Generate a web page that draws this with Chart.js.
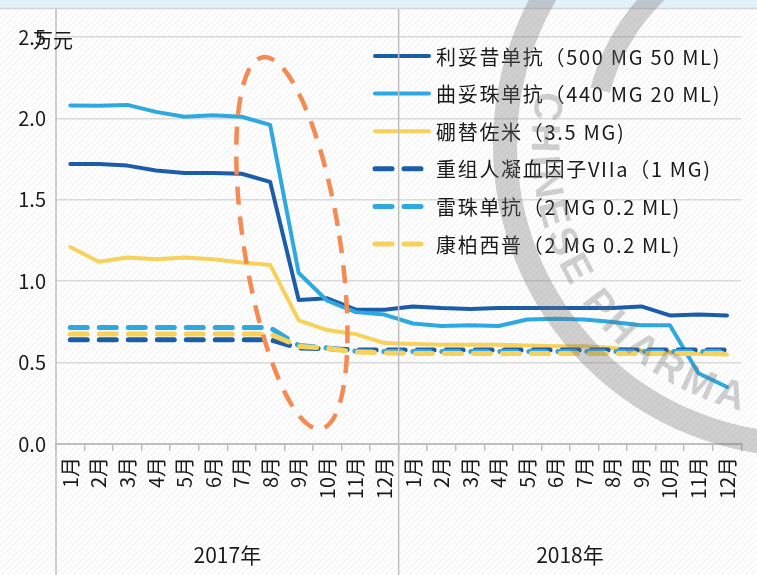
<!DOCTYPE html>
<html>
<head>
<meta charset="utf-8">
<script src="https://cdn.jsdelivr.net/npm/chart.js@4.4.0/dist/chart.umd.min.js"></script>
<style>
	html, body { margin: 0; padding: 0; background: #fff; }
	#grafico { display: block; }
</style>
</head>
<body>
<canvas id="grafico" width="757" height="575"></canvas>
<script>
// eixo x: meses de 2017 e 2018
const meses = ['1月','2月','3月','4月','5月','6月','7月','8月','9月','10月','11月','12月',
	'1月','2月','3月','4月','5月','6月','7月','8月','9月','10月','11月','12月'];
const anos = ['2017年', '2018年'];
const yTicks = [0, 0.5, 1.0, 1.5, 2.0, 2.5];
const unidade = '万元';

// valores (万元)
const rituximab = [1.72, 1.72, 1.71, 1.68, 1.665, 1.665, 1.66, 1.61, 0.885, 0.895, 0.825, 0.825,
	0.845, 0.835, 0.83, 0.835, 0.835, 0.835, 0.835, 0.835, 0.845, 0.79, 0.795, 0.79];
const trastuzumab = [2.08, 2.078, 2.083, 2.04, 2.01, 2.02, 2.01, 1.96, 1.05, 0.88, 0.81, 0.795,
	0.74, 0.725, 0.73, 0.725, 0.765, 0.77, 0.765, 0.75, 0.73, 0.73, 0.435, 0.35];
const bortezomib = [1.21, 1.12, 1.145, 1.135, 1.145, 1.135, 1.115, 1.10, 0.76, 0.70, 0.675, 0.62,
	0.615, 0.61, 0.61, 0.61, 0.605, 0.60, 0.60, 0.59, 0.575, 0.565, 0.555, 0.55];
const fator7 = [0.64, 0.64, 0.64, 0.64, 0.64, 0.64, 0.64, 0.64, 0.59, 0.585, 0.578, 0.578,
	0.578, 0.578, 0.578, 0.578, 0.578, 0.578, 0.578, 0.578, 0.578, 0.578, 0.578, 0.578];
const ranibizumab = [0.715, 0.715, 0.715, 0.715, 0.715, 0.715, 0.715, 0.715, 0.605, 0.59, 0.57, 0.568,
	0.568, 0.568, 0.568, 0.568, 0.568, 0.568, 0.568, 0.568, 0.568, 0.568, 0.568, 0.568];
const conbercept = [0.675, 0.675, 0.675, 0.675, 0.675, 0.675, 0.675, 0.675, 0.60, 0.588, 0.565, 0.56,
	0.556, 0.556, 0.556, 0.556, 0.556, 0.556, 0.556, 0.556, 0.556, 0.556, 0.556, 0.556];

const nomes = ['利妥昔单抗（500 MG 50 ML)', '曲妥珠单抗（440 MG 20 ML)', '硼替佐米（3.5 MG)',
	'重组人凝血因子VIIa（1 MG)', '雷珠单抗（2 MG 0.2 ML)', '康柏西普（2 MG 0.2 ML)'];

const fonte = '"Noto Sans CJK SC", "Noto Sans", sans-serif';
const azulEscuro = '#1b5dab';
const azulClaro = '#2ea8e0';
const amarelo = '#f7d15a';

function serie(i, data, cor, tracejado) {
	return {
		label: nomes[i],
		data: data,
		borderColor: cor,
		backgroundColor: cor,
		borderWidth: tracejado ? 5 : 4,
		borderDash: tracejado ? [17, 12] : [],
		borderCapStyle: 'round',
		borderJoinStyle: 'round',
		pointRadius: 0,
		tension: 0,
		fill: false,
		order: 5 - i
	};
}

// fundo, linhas divisórias, rótulos de ano, elipse, legenda e marca d'água
const decoracao = {
	id: 'decoracao',
	beforeDraw(chart) {
		const ctx = chart.ctx;
		ctx.save();
		ctx.fillStyle = '#fff';
		ctx.fillRect(0, 0, chart.width, chart.height);
		const p = document.createElement('canvas');
		p.width = 6; p.height = 6;
		const pc = p.getContext('2d');
		pc.strokeStyle = 'rgba(0,0,0,0.045)';
		pc.lineWidth = 1.5;
		pc.beginPath(); pc.moveTo(0, 6); pc.lineTo(6, 0); pc.stroke();
		ctx.fillStyle = ctx.createPattern(p, 'repeat');
		ctx.fillRect(0, 0, chart.width, chart.height);
		ctx.fillStyle = '#e3f1fa';
		ctx.fillRect(0, 0, chart.width, 8);
		ctx.strokeStyle = '#d4d4d4';
		ctx.lineWidth = 1.5;
		ctx.beginPath(); ctx.moveTo(0, 8.5); ctx.lineTo(chart.width, 8.5); ctx.stroke();
		ctx.restore();
	},
	afterDatasetsDraw(chart) {
		const ctx = chart.ctx;
		const x = chart.scales.x, y = chart.scales.y;
		ctx.save();
		// elipse destacando a queda de 2017
		ctx.strokeStyle = '#f58b52';
		ctx.lineWidth = 4.5;
		ctx.setLineDash([18, 12]);
		ctx.beginPath();
		ctx.ellipse(x.getPixelForValue(7.76), y.getPixelForValue(1.235), 48, 188, -0.155, 0, 2 * Math.PI);
		ctx.stroke();

		// legenda
		ctx.font = '20px ' + fonte;
		ctx.letterSpacing = '1.7px';
		ctx.textBaseline = 'middle';
		ctx.textAlign = 'left';
		chart.data.datasets.forEach((ds, i) => {
			const ly = 56 + i * 37.6;
			ctx.strokeStyle = ds.borderColor;
			ctx.lineWidth = ds.borderWidth;
			ctx.lineCap = 'round';
			ctx.setLineDash(ds.borderDash);
			ctx.beginPath(); ctx.moveTo(375, ly); ctx.lineTo(429, ly); ctx.stroke();
			ctx.fillStyle = '#1a1a1a';
			ctx.fillText(ds.label, 436, ly + 1);
		});
		ctx.restore();
	},
	afterDraw(chart) {
		const ctx = chart.ctx;
		const x = chart.scales.x, area = chart.chartArea;
		ctx.save();
		ctx.strokeStyle = '#bfbfbf';
		ctx.lineWidth = 1.5;
		const divisa = (x.getPixelForValue(11) + x.getPixelForValue(12)) / 2;
		ctx.beginPath();
		ctx.moveTo(area.left, 9); ctx.lineTo(area.left, chart.height);
		ctx.moveTo(divisa, 9); ctx.lineTo(divisa, chart.height);
		ctx.stroke();

		ctx.fillStyle = '#1a1a1a';
		ctx.font = '21px ' + fonte;
		ctx.textAlign = 'center';
		ctx.textBaseline = 'middle';
		anos.forEach((a, i) => {
			const cx = (x.getPixelForValue(i * 12) + x.getPixelForValue(i * 12 + 11)) / 2;
			ctx.fillText(a, cx, 555);
		});
		ctx.font = '20px ' + fonte;
		ctx.textAlign = 'left';
		ctx.fillText(unidade, 33, 40);

		// marca d'água
		const cx = 805, cy = 145;
		const cinza = 'rgba(110,110,110,0.32)';
		ctx.strokeStyle = cinza;
		ctx.lineWidth = 24;
		ctx.beginPath(); ctx.arc(cx, cy, 300, 0, 2 * Math.PI); ctx.stroke();
		ctx.lineWidth = 20;
		ctx.beginPath(); ctx.arc(cx, cy, 212, 195 * Math.PI / 180, 240 * Math.PI / 180); ctx.stroke();
		ctx.fillStyle = cinza;
		ctx.font = 'bold 40px "Liberation Sans", sans-serif';
		ctx.textAlign = 'center';
		let ang = 192 * Math.PI / 180;
		const r = 262;
		for (const ch of 'CHINESE PHARMA') {
			const w = ctx.measureText(ch).width + 3;
			ang -= w / 2 / r;
			ctx.save();
			ctx.translate(cx + r * Math.cos(ang), cy + r * Math.sin(ang));
			ctx.rotate(ang - Math.PI / 2);
			ctx.fillText(ch, 0, 0);
			ctx.restore();
			ang -= w / 2 / r;
		}
		ctx.restore();
	}
};

new Chart(document.getElementById('grafico'), {
	type: 'line',
	data: {
		labels: meses,
		datasets: [
			serie(0, rituximab, azulEscuro, false),
			serie(1, trastuzumab, azulClaro, false),
			serie(2, bortezomib, amarelo, false),
			serie(3, fator7, azulEscuro, true),
			serie(4, ranibizumab, azulClaro, true),
			serie(5, conbercept, amarelo, true)
		]
	},
	options: {
		responsive: false,
		animation: false,
		devicePixelRatio: 1,
		layout: { padding: { top: 37, right: 0, left: 0, bottom: 0 } },
		plugins: {
			legend: { display: false },
			tooltip: { enabled: false }
		},
		scales: {
			x: {
				type: 'category',
				offset: true,
				afterFit(scale) { scale.height = 131; },
				grid: { offset: true, drawOnChartArea: false, drawTicks: true, tickLength: 7, color: '#bfbfbf', lineWidth: 1.5 },
				border: { color: '#bfbfbf', width: 2 },
				ticks: { autoSkip: false, minRotation: 90, maxRotation: 90, padding: 6, color: '#1a1a1a', font: { family: fonte, size: 20 } }
			},
			y: {
				min: 0,
				max: 2.5,
				afterFit(scale) { scale.width = 56; },
				afterBuildTicks(scale) { scale.ticks = yTicks.map(v => ({ value: v })); },
				grid: { color: '#d9d9d9', lineWidth: 1.5, drawTicks: false },
				border: { display: false },
				ticks: { padding: 10, color: '#1a1a1a', font: { family: fonte, size: 20 }, callback: v => v.toFixed(1) }
			}
		}
	},
	plugins: [decoracao]
});
</script>
</body>
</html>
